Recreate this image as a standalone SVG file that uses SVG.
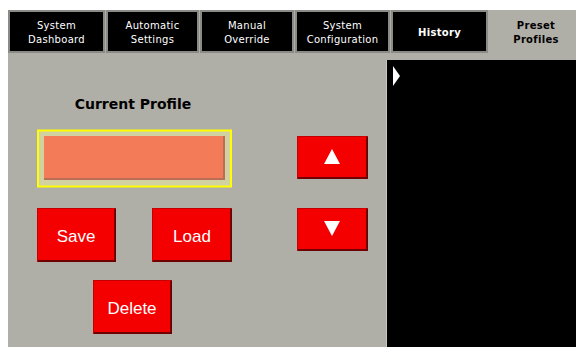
<svg xmlns="http://www.w3.org/2000/svg" width="576" height="347" viewBox="0 0 576 347">
<style>
.tab rect.b{fill:#000;stroke:#8a8a86;stroke-width:2}
.tabt{font-family:"DejaVu Sans",sans-serif;font-size:10px;fill:#fff;text-anchor:middle;letter-spacing:0.3px}
.act{font-family:"DejaVu Sans",sans-serif;font-size:10px;font-weight:bold;fill:#000;text-anchor:middle;letter-spacing:0.3px}
.btn{fill:#f50000;stroke:#c40000;stroke-width:1}
.sh{fill:none;stroke:#6e0000;stroke-width:2}
.bt{font-family:"Liberation Sans",Arial,sans-serif;font-size:17px;fill:#fff;text-anchor:middle}
</style>
<rect x="0" y="0" width="576" height="347" fill="#fff"/>
<rect x="8" y="10" width="568" height="337" fill="#b0afa7"/>
<g id="tab-dashboard" class="tab"><rect class="b" x="9" y="11" width="95" height="41"/><text class="tabt" x="56.5" y="29">System</text><text class="tabt" x="56.5" y="43">Dashboard</text></g>
<g id="tab-automatic" class="tab"><rect class="b" x="107" y="11" width="91" height="41"/><text class="tabt" x="152.5" y="29">Automatic</text><text class="tabt" x="152.5" y="43">Settings</text></g>
<g id="tab-manual" class="tab"><rect class="b" x="201" y="11" width="92" height="41"/><text class="tabt" x="247" y="29">Manual</text><text class="tabt" x="247" y="43">Override</text></g>
<g id="tab-config" class="tab"><rect class="b" x="296" y="11" width="93" height="41"/><text class="tabt" x="342.5" y="29">System</text><text class="tabt" x="342.5" y="43">Configuration</text></g>
<g id="tab-history" class="tab"><rect class="b" x="392" y="11" width="95" height="41"/><text class="tabt" x="439.5" y="36" font-weight="bold">History</text></g>
<g id="tab-preset"><text class="act" x="536" y="29">Preset</text><text class="act" x="536" y="43">Profiles</text></g>
<g id="list-panel"><rect x="386" y="60" width="190" height="287" fill="#000"/><line x1="386.5" y1="60" x2="386.5" y2="347" stroke="#c8c8c0" stroke-width="1"/><polygon points="393,66 400,76 393,86" fill="#fff"/></g>
<g id="current-profile-label"><text x="133" y="109" font-family="'DejaVu Sans',sans-serif" font-size="14" font-weight="bold" fill="#000" text-anchor="middle">Current Profile</text></g>
<g id="profile-field"><rect x="38" y="130.5" width="193" height="56" fill="#d2d1a2" stroke="#ffff00" stroke-width="2"/><rect x="44" y="136" width="180" height="43" fill="#f47b57"/><path d="M224,136 V179 H44" fill="none" stroke="#b86f55" stroke-width="2"/></g>
<g id="btn-up"><rect class="btn" x="297.5" y="136.5" width="70" height="42"/><path class="sh" d="M367,137 V178 H298"/><polygon points="332,149 340,164 324,164" fill="#fff"/></g>
<g id="btn-down"><rect class="btn" x="297.5" y="208.5" width="70" height="42"/><path class="sh" d="M367,209 V250 H298"/><polygon points="324,221 340,221 332,236" fill="#fff"/></g>
<g id="btn-save"><rect class="btn" x="37.5" y="208.5" width="78" height="53"/><path class="sh" d="M115,209 V261 H38"/><text class="bt" x="76" y="242">Save</text></g>
<g id="btn-load"><rect class="btn" x="152.5" y="208.5" width="79" height="53"/><path class="sh" d="M231,209 V261 H153"/><text class="bt" x="192" y="242">Load</text></g>
<g id="btn-delete"><rect class="btn" x="93.5" y="280.5" width="78" height="53"/><path class="sh" d="M171,281 V333 H94"/><text class="bt" x="132" y="314">Delete</text></g>
</svg>
